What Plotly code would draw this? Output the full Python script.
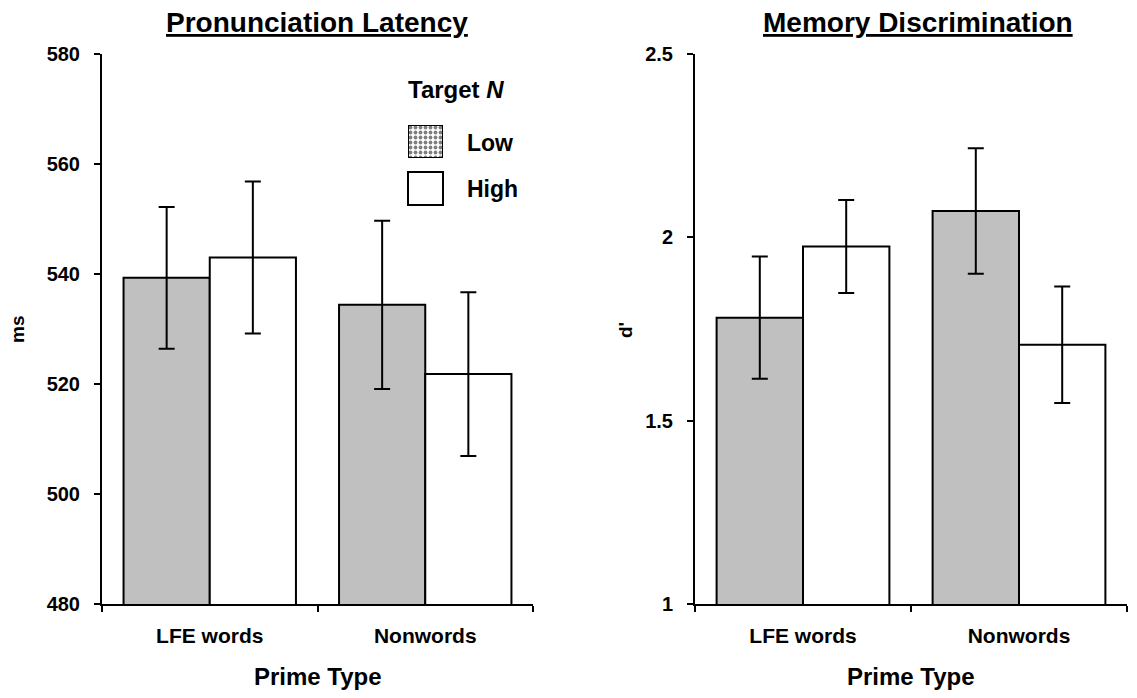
import plotly.graph_objects as go

categories = ["LFE words", "Nonwords"]
groups = ["Low", "High"]

# Pronunciation latency (ms)
lat_low = [539.3, 534.4]
lat_high = [543.0, 521.8]
lat_low_err = [12.9, 15.3]
lat_high_err = [13.8, 14.9]

# Memory discrimination (d')
dp_low = [1.781, 2.072]
dp_high = [1.975, 1.707]
dp_low_err = [0.167, 0.171]
dp_high_err = [0.127, 0.159]

lat_ticks = [480, 500, 520, 540, 560, 580]
dp_ticks = [1, 1.5, 2, 2.5]
dp_ticklabels = ["1", "1.5", "2", "2.5"]

FONT = "Liberation Sans, Arial, sans-serif"
W, H = 1137, 698
GRAY = "#c0c0c0"


def px(x):
    return x / W


def py(y):
    return (H - y) / H


fig = go.Figure()


def add_bars(xa, ya, low, high, lerr, herr):
    for vals, errs, color in [(low, lerr, GRAY), (high, herr, "white")]:
        fig.add_trace(go.Bar(
            x=categories, y=vals, xaxis=xa, yaxis=ya,
            marker=dict(color=color, line=dict(color="black", width=2)),
            error_y=dict(type="data", array=errs, visible=True,
                         color="black", thickness=2, width=8),
            showlegend=False, hoverinfo="skip"))


add_bars("x", "y", lat_low, lat_high, lat_low_err, lat_high_err)
add_bars("x2", "y2", dp_low, dp_high, dp_low_err, dp_high_err)

# legend swatch (dotted) on a hidden axis
fig.add_trace(go.Bar(
    x=[0], y=[1], width=[1], xaxis="x3", yaxis="y3",
    marker=dict(color="white", line=dict(color="black", width=2),
                pattern=dict(shape=".", fgcolor="black", bgcolor="white",
                             size=5, solidity=0.45)),
    showlegend=False, hoverinfo="skip"))

ydom = [py(604), py(54)]
tickfont = dict(family=FONT, size=20, color="black", weight="bold")
axis_common = dict(showline=True, linecolor="black", linewidth=2,
                   showgrid=False, zeroline=False, automargin=False,
                   ticks="outside", ticklen=6, tickwidth=2,
                   tickcolor="black")

fig.update_layout(
    width=W, height=H,
    margin=dict(l=0, r=0, t=0, b=0),
    paper_bgcolor="white", plot_bgcolor="white",
    barmode="group", bargap=0.2, bargroupgap=0,
    font=dict(family=FONT, color="black"),
    hovermode=False,
    xaxis=dict(domain=[px(102), px(533)], anchor="y",
               tickson="boundaries", ticklabelstandoff=12,
               tickfont=dict(tickfont, size=21), **axis_common),
    yaxis=dict(domain=ydom, anchor="x", range=[480, 580],
               tickvals=lat_ticks, ticklabelstandoff=10,
               tickfont=tickfont, **axis_common),
    xaxis2=dict(domain=[px(695), px(1127)], anchor="y2",
                tickson="boundaries", ticklabelstandoff=12,
                tickfont=dict(tickfont, size=21), **axis_common),
    yaxis2=dict(domain=ydom, anchor="x2", range=[1, 2.5],
                tickvals=dp_ticks, ticktext=dp_ticklabels,
                ticklabelstandoff=10, tickfont=tickfont, **axis_common),
    xaxis3=dict(domain=[px(408), px(443)], anchor="y3", range=[-0.5, 0.5],
                visible=False, fixedrange=True, automargin=False),
    yaxis3=dict(domain=[py(158), py(125)], anchor="x3", range=[0, 1],
                visible=False, fixedrange=True, automargin=False),
)

# High legend swatch
fig.add_shape(type="rect", xref="paper", yref="paper",
              x0=px(408), x1=px(443), y0=py(205), y1=py(172),
              line=dict(color="black", width=2), fillcolor="white")

ann = []


def text(x, y, s, size, angle=0, xanchor="center"):
    ann.append(dict(x=px(x), y=py(y), xref="paper", yref="paper",
                    text=s, showarrow=False, textangle=angle,
                    xanchor=xanchor, yanchor="middle",
                    font=dict(family=FONT, size=size, color="black")))


text(317, 22, "<b><u>Pronunciation Latency</u></b>", 28)
text(918, 22, "<b><u>Memory Discrimination</u></b>", 28)
text(318, 676, "<b>Prime Type</b>", 24)
text(911, 676, "<b>Prime Type</b>", 24)
text(17, 330, "<b>ms</b>", 19, angle=-90)
text(625, 330, "<b>d'</b>", 19, angle=-90)
text(406, 90, "<b>Target <i>N</i></b>", 24, xanchor="left")
text(465, 143, "<b>Low</b>", 23, xanchor="left")
text(465, 189, "<b>High</b>", 23, xanchor="left")

fig.update_layout(annotations=ann)

fig.write_html("out.html",
               config={"displayModeBar": False, "staticPlot": True},
               post_script="document.body.style.margin='0';"
                           "document.body.style.overflow='hidden';")
